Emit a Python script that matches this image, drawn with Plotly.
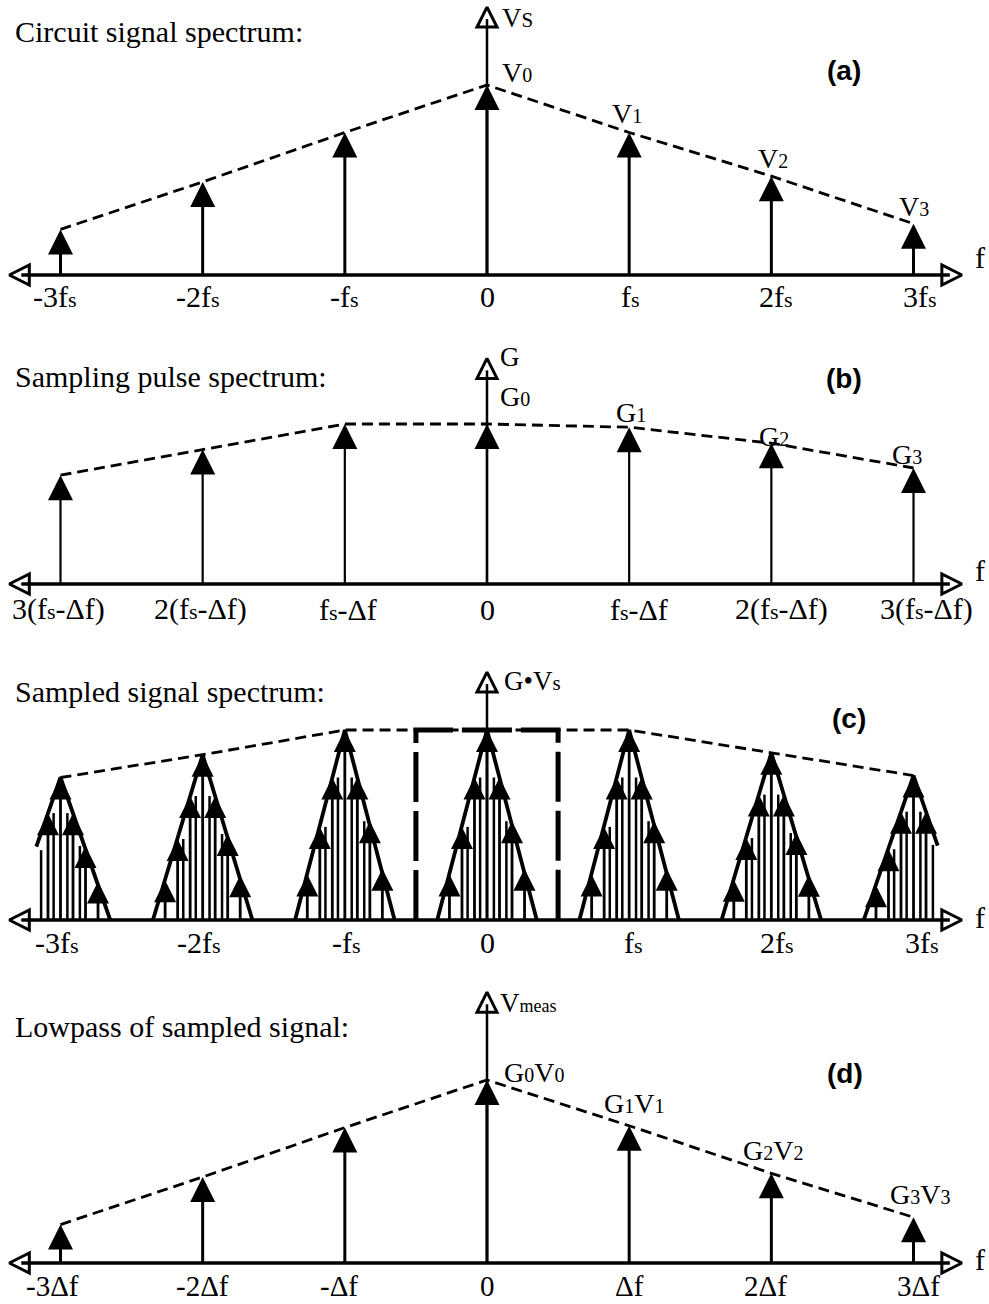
import plotly.graph_objects as go

W, H = 989, 1304

# ---------------- data ----------------
harmonics = [-3, -2, -1, 0, 1, 2, 3]
V_signal = [0.24, 0.49, 0.75, 1.00, 0.75, 0.52, 0.27]      # (a) circuit signal spectrum
G_pulse = [0.68, 0.84, 1.00, 1.00, 0.98, 0.88, 0.725]      # (b) sampling pulse spectrum
GV_comb_peak = [0.75, 0.87, 1.00, 1.00, 1.00, 0.88, 0.76]  # (c) peak of each replica
GV_meas = [0.21, 0.47, 0.74, 1.00, 0.75, 0.49, 0.25]       # (d) lowpass of sampled signal

comb_step = 0.088        # spacing of components inside a replica (fs units)
comb_halfwidth = 0.35    # half base width of a replica's triangle envelope
comb_clip = 3.17         # replicas are cut at the drawing edge
lowpass_edges = [-0.5, 0.5]

S = "<span style='font-size:22px'>s</span>"
ticks_a = ["-3f" + S, "-2f" + S, "-f" + S, "0", "f" + S, "2f" + S, "3f" + S]
ticks_b = ["3(f" + S + "-Δf)", "2(f" + S + "-Δf)", "f" + S + "-Δf", "0",
           "f" + S + "-Δf", "2(f" + S + "-Δf)", "3(f" + S + "-Δf)"]
ticks_c = ticks_a
ticks_d = ["-3Δf", "-2Δf", "-Δf", "0", "Δf", "2Δf", "3Δf"]

def sub(c, d):
    return c + "<span style='font-size:20px'>" + d + "</span>"

peak_labels_a = [sub("V", "0"), sub("V", "1"), sub("V", "2"), sub("V", "3")]
peak_labels_b = [sub("G", "0"), sub("G", "1"), sub("G", "2"), sub("G", "3")]
peak_labels_d = [sub("G", "0") + sub("V", "0"), sub("G", "1") + sub("V", "1"),
                 sub("G", "2") + sub("V", "2"), sub("G", "3") + sub("V", "3")]

titles = ["Circuit signal spectrum:", "Sampling pulse spectrum:",
          "Sampled signal spectrum:", "Lowpass of sampled signal:"]
axis_names = ["V" + "<span style='font-size:21px'>S</span>", "G",
              "G•V" + "<span style='font-size:21px'>s</span>",
              "V" + "<span style='font-size:18px'>meas</span>"]
panel_letters = ["(a)", "(b)", "(c)", "(d)"]

# ---------------- layout geometry ----------------
SERIF = "Liberation Serif"
SANS = "Liberation Sans"
X0_PX = 487.0
X_UNIT = 142.17
x_range = [-X0_PX / X_UNIT, (W - X0_PX) / X_UNIT]
x_axis_ends = [-3.36, 3.34]
HEAD = 25          # filled arrowhead size (px)
AXHEAD = 20        # open axis arrowhead size (px)

panels = [
    dict(baseline=275, unit=190, top=0, bottom=312, ytop=1.41,
         title_y=31, name_x=500, name_y=18, letter=(844, 70), f_y=257, tick_y=296),
    dict(baseline=584, unit=160, top=312, bottom=640, ytop=1.41,
         title_y=376, name_x=498, name_y=357, letter=(844, 378), f_y=570, tick_y=609),
    dict(baseline=920, unit=190, top=640, bottom=968, ytop=1.305,
         title_y=691, name_x=502, name_y=681, letter=(849, 718), f_y=917, tick_y=942),
    dict(baseline=1263, unit=183, top=968, bottom=1304, ytop=1.48,
         title_y=1026, name_x=498, name_y=1003, letter=(845, 1073), f_y=1259, tick_y=1286),
]

fig = go.Figure()
annotations = []


def refs(i):
    return ("x" if i == 1 else f"x{i}"), ("y" if i == 1 else f"y{i}")


def add_axes(i, p):
    xr, yr = refs(i)
    hx = (AXHEAD * 0.6) / X_UNIT
    hy = (AXHEAD * 0.6) / p["unit"]
    xl, xh = x_axis_ends
    fig.add_trace(go.Scatter(x=[xl + hx, xh - hx], y=[0, 0], mode="lines",
                             line=dict(color="black", width=3.5), xaxis=xr, yaxis=yr,
                             hoverinfo="skip"))
    fig.add_trace(go.Scatter(x=[0, 0], y=[0, p["ytop"] - hy], mode="lines",
                             line=dict(color="black", width=2.5), xaxis=xr, yaxis=yr,
                             hoverinfo="skip"))
    fig.add_trace(go.Scatter(x=[xl, xh, 0], y=[0, 0, p["ytop"]], mode="markers",
                             marker=dict(symbol=["arrow-left-open", "arrow-right-open", "arrow-up-open"],
                                         size=AXHEAD, color="black",
                                         line=dict(color="black", width=3)),
                             xaxis=xr, yaxis=yr, hoverinfo="skip"))


def add_arrows(i, p, xs, ys, width=3.0, size=HEAD):
    xr, yr = refs(i)
    hy = size * 0.4 / p["unit"]
    sx, sy = [], []
    for x, y in zip(xs, ys):
        sx += [x, x, None]
        sy += [0, y - hy, None]
    fig.add_trace(go.Scatter(x=sx, y=sy, mode="lines",
                             line=dict(color="black", width=width), xaxis=xr, yaxis=yr,
                             hoverinfo="skip"))
    fig.add_trace(go.Scatter(x=xs, y=ys, mode="markers",
                             marker=dict(symbol="arrow-up", size=size, color="black"),
                             xaxis=xr, yaxis=yr, hoverinfo="skip"))


def add_envelope(i, xs, ys):
    xr, yr = refs(i)
    fig.add_trace(go.Scatter(x=xs, y=ys, mode="lines",
                             line=dict(color="black", width=2.8, dash="11px,6px"),
                             xaxis=xr, yaxis=yr, hoverinfo="skip"))


# ---- panels a, b, d : simple line spectra ----
for i, vals in [(1, V_signal), (2, G_pulse), (4, GV_meas)]:
    p = panels[i - 1]
    add_envelope(i, harmonics, vals)
    add_arrows(i, p, harmonics, vals, width=3.0 if i != 2 else 2.2)

# ---- panel c : replicas ----
p = panels[2]
xr, yr = refs(3)
arr_x, arr_y = [], []
plain_x, plain_y = [], []
env_x, env_y = [], []
for ki, k in enumerate(harmonics):
    peak = GV_comb_peak[ki]
    for mi, m in enumerate(harmonics):
        h = peak * V_signal[mi]
        x = k + m * comb_step
        if abs(x) <= comb_clip:
            arr_x.append(x)
            arr_y.append(h)
        if m != 0 and abs(m) < 3:
            xp = k + (m - (0.45 if m > 0 else -0.45)) * comb_step
            if abs(xp) <= comb_clip:
                plain_x += [xp, xp, None]
                plain_y += [0, h, None]
    # triangle envelope of the replica, clipped at the drawing edge
    xl, xh = k - comb_halfwidth, k + comb_halfwidth
    yl, yh = 0.0, 0.0
    if xl < -comb_clip:
        yl = peak * (1 - (k + comb_clip) / comb_halfwidth)
        xl = -comb_clip
    if xh > comb_clip:
        yh = peak * (1 - (comb_clip - k) / comb_halfwidth)
        xh = comb_clip
    env_x += [xl, k, xh, None]
    env_y += [yl, peak, yh, None]

fig.add_trace(go.Scatter(x=plain_x, y=plain_y, mode="lines",
                         line=dict(color="black", width=2.5), xaxis=xr, yaxis=yr, hoverinfo="skip"))
fig.add_trace(go.Scatter(x=env_x, y=env_y, mode="lines",
                         line=dict(color="black", width=3.8), xaxis=xr, yaxis=yr, hoverinfo="skip"))
add_arrows(3, p, arr_x, arr_y, width=2.8, size=22)
add_envelope(3, harmonics, GV_comb_peak)
lp_top = GV_comb_peak[3]
fig.add_trace(go.Scatter(x=[lowpass_edges[0], lowpass_edges[0], lowpass_edges[1], lowpass_edges[1]],
                         y=[0, lp_top, lp_top, 0], mode="lines",
                         line=dict(color="black", width=5, dash="50px,9px"),
                         xaxis=xr, yaxis=yr, hoverinfo="skip"))

for i, p in enumerate(panels, 1):
    add_axes(i, p)

# ---------------- text ----------------
def pann(text, xpx, ypx, size, xanchor="center", family=SERIF):
    annotations.append(dict(text=text, x=xpx / W, y=1 - ypx / H, xref="paper", yref="paper",
                            xanchor=xanchor, yanchor="middle", showarrow=False,
                            font=dict(family=family, size=size, color="black")))


def dann(i, text, x, y, xshift, yshift, size):
    xr, yr = refs(i)
    annotations.append(dict(text=text, x=x, y=y, xref=xr, yref=yr, xshift=xshift, yshift=yshift,
                            xanchor="center", yanchor="middle", showarrow=False,
                            font=dict(family=SERIF, size=size, color="black")))


tick_sets = [ticks_a, ticks_b, ticks_c, ticks_d]
tick_xshift = [[-5, -5, 0, 0, 1, 5, 6],
               [-2, -2, 3, 0, 10, 10, 13],
               [-3, -4, 2, 0, 4, 6, 8],
               [-8, 0, -6, 0, 0, -6, 5]]
for i, p in enumerate(panels, 1):
    pann(titles[i - 1], 13, p["title_y"], 30, xanchor="left")
    pann(axis_names[i - 1], p["name_x"], p["name_y"], 27, xanchor="left")
    pann("<b>" + panel_letters[i - 1] + "</b>", p["letter"][0], p["letter"][1], 28, family=SANS)
    pann("f", 980, p["f_y"], 30)
    for j, k in enumerate(harmonics):
        dann(i, tick_sets[i - 1][j], k, 0, tick_xshift[i - 1][j],
             -(p["tick_y"] - p["baseline"]), 29 if i == 4 else 30)

# labels at the peaks
offs_a = [(30, 13), (-2, 19), (2, 18), (0, 17)]
offs_b = [(28, 27), (2, 15), (3, 7), (-7, 13)]
offs_d = [(47, 8), (5, 22), (2, 23), (6, 23)]
for i, labels, vals, offs in [(1, peak_labels_a, V_signal, offs_a),
                              (2, peak_labels_b, G_pulse, offs_b),
                              (4, peak_labels_d, GV_meas, offs_d)]:
    for n in range(4):
        idx = 3 + n
        dann(i, labels[n], harmonics[idx], vals[idx], offs[n][0], offs[n][1], 28)

layout = dict(width=W, height=H, margin=dict(l=0, r=0, t=0, b=0),
              paper_bgcolor="white", plot_bgcolor="white", showlegend=False,
              annotations=annotations)
for i, p in enumerate(panels, 1):
    xa = "xaxis" if i == 1 else f"xaxis{i}"
    ya = "yaxis" if i == 1 else f"yaxis{i}"
    layout[xa] = dict(domain=[0, 1], range=x_range, visible=False, fixedrange=True,
                      anchor="y" if i == 1 else f"y{i}")
    layout[ya] = dict(domain=[1 - p["bottom"] / H, 1 - p["top"] / H],
                      range=[(p["baseline"] - p["bottom"]) / p["unit"],
                             (p["baseline"] - p["top"]) / p["unit"]],
                      visible=False, fixedrange=True,
                      anchor="x" if i == 1 else f"x{i}")
fig.update_layout(**layout)
fig.write_html("out.html")
